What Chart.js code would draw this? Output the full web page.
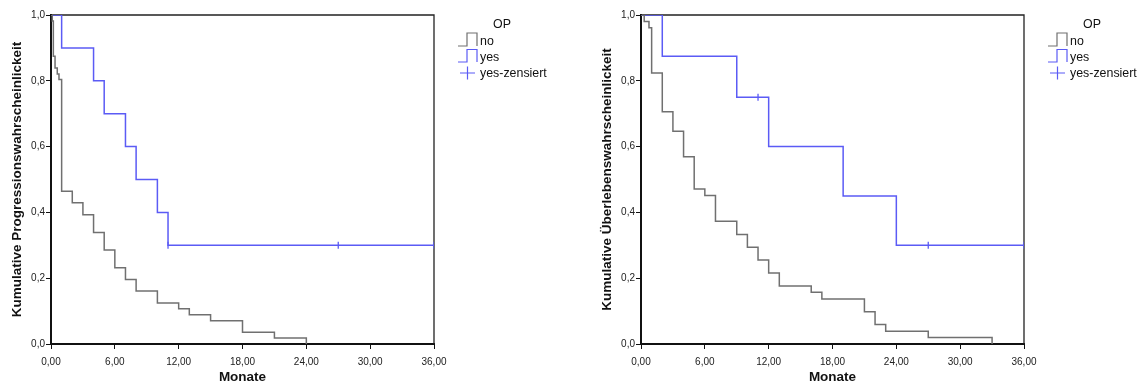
<!DOCTYPE html>
<html>
<head>
<meta charset="utf-8">
<script src="https://cdn.jsdelivr.net/npm/chart.js@4"></script>
<style>
  body { margin: 0; background: #fff; }
  #wrap { position: relative; width: 1140px; height: 385px; }
  canvas { position: absolute; top: 0; }
  #links { left: 0; }
  #rechts { left: 590px; }
</style>
</head>
<body>
<div id="wrap">
  <canvas id="links" width="550" height="385"></canvas>
  <canvas id="rechts" width="550" height="385"></canvas>
</div>
<script>
/* Daten - Kaplan-Meier Kurven (Monate / kumulative Wahrscheinlichkeit) */

// Progression
const progNoZeit = [0, 0.12, 0.22, 0.38, 0.59, 0.75, 1, 2, 3, 4, 5, 6, 7, 8, 10, 12, 13, 15, 18, 21, 24];
const progNoWert = [1, 0.982, 0.875, 0.839, 0.821, 0.804, 0.464, 0.429, 0.393, 0.339, 0.286, 0.232, 0.196, 0.161, 0.125, 0.107, 0.089, 0.071, 0.036, 0.018, 0];
const progYesZeit = [0, 1, 4, 5, 7, 8, 10, 11, 36];
const progYesWert = [1, 0.9, 0.8, 0.7, 0.6, 0.5, 0.4, 0.3, 0.3];
const progZensZeit = [11, 27, 36];
const progZensWert = [0.3, 0.3, 0.3];

// Überleben
const ueberNoZeit = [0, 0.3, 0.75, 1, 2, 3, 4, 5, 6, 7, 9, 10, 11, 12, 13, 16, 17, 21, 22, 23, 27, 33];
const ueberNoWert = [1, 0.980, 0.961, 0.824, 0.706, 0.647, 0.569, 0.471, 0.451, 0.373, 0.333, 0.294, 0.255, 0.216, 0.176, 0.157, 0.137, 0.098, 0.059, 0.039, 0.020, 0];
const ueberYesZeit = [0, 2, 9, 12, 19, 24, 36];
const ueberYesWert = [1, 0.875, 0.75, 0.6, 0.45, 0.3, 0.3];
const ueberZensZeit = [11, 27, 36];
const ueberZensWert = [0.75, 0.3, 0.3];

const xTicks = [0, 6, 12, 18, 24, 30, 36];
const yTicks = [0, 0.2, 0.4, 0.6, 0.8, 1.0];
const legendeTitel = "OP";
const legendeEintraege = ["no", "yes", "yes-zensiert"];

const GRAU = "#707070";
const BLAU = "#5b5bf5";
const SCHRIFT = "'Liberation Sans', Arial, sans-serif";

function punkte(zeit, wert) {
    return zeit.map((t, i) => ({ x: t, y: wert[i] }));
}

/* Rahmen oben + rechts */
const rahmen = {
    id: 'rahmen',
    beforeDatasetsDraw(chart) {
        const { ctx, chartArea: a } = chart;
        ctx.save();
        ctx.strokeStyle = '#222';
        ctx.lineWidth = 1.3;
        ctx.beginPath();
        ctx.moveTo(a.left, a.top);
        ctx.lineTo(a.right, a.top);
        ctx.lineTo(a.right, a.bottom);
        ctx.stroke();
        ctx.restore();
    }
};

/* Legende rechts mit Stufen-Symbol */
const legende = {
    id: 'legende',
    afterDraw(chart) {
        const { ctx, chartArea: a } = chart;
        const x0 = a.right + 24;
        ctx.save();
        ctx.font = "12.4px " + SCHRIFT;
        ctx.fillStyle = '#111';
        ctx.textBaseline = 'middle';
        ctx.textAlign = 'center';
        ctx.fillText(legendeTitel, a.right + 68, 24.5);
        ctx.textAlign = 'left';

        function stufe(farbe, unten, oben) {
            ctx.strokeStyle = farbe;
            ctx.lineWidth = 1.2;
            ctx.beginPath();
            ctx.moveTo(x0, unten);
            ctx.lineTo(x0 + 9, unten);
            ctx.lineTo(x0 + 9, oben);
            ctx.lineTo(x0 + 19, oben);
            ctx.lineTo(x0 + 19, unten);
            ctx.stroke();
        }
        stufe(GRAU, 46, 33);
        ctx.fillText(legendeEintraege[0], x0 + 22, 42);
        stufe(BLAU, 62, 49.5);
        ctx.fillText(legendeEintraege[1], x0 + 22, 58);

        ctx.strokeStyle = BLAU;
        ctx.lineWidth = 1.2;
        ctx.beginPath();
        ctx.moveTo(x0 + 2, 73);
        ctx.lineTo(x0 + 17, 73);
        ctx.moveTo(x0 + 9.5, 66.5);
        ctx.lineTo(x0 + 9.5, 79.5);
        ctx.stroke();
        ctx.fillText(legendeEintraege[2], x0 + 22, 73.5);
        ctx.restore();
    }
};

function kmChart(canvasId, yTitel, noZ, noW, yesZ, yesW, zensZ, zensW) {
    const ctx = document.getElementById(canvasId).getContext("2d");
    return new Chart(ctx, {
        type: "line",
        data: {
            datasets: [
                {
                    label: "no",
                    data: punkte(noZ, noW),
                    borderColor: GRAU,
                    borderWidth: 1.5,
                    stepped: 'before',
                    pointRadius: 0,
                    fill: false
                },
                {
                    label: "yes",
                    data: punkte(yesZ, yesW),
                    borderColor: BLAU,
                    borderWidth: 1.5,
                    stepped: 'before',
                    pointRadius: 0,
                    fill: false
                },
                {
                    label: "yes-zensiert",
                    data: punkte(zensZ, zensW),
                    showLine: false,
                    pointStyle: 'line',
                    rotation: 90,
                    pointRadius: 3.5,
                    borderColor: BLAU,
                    borderWidth: 1.3
                }
            ]
        },
        options: {
            responsive: false,
            animation: false,
            events: [],
            layout: { padding: { top: 15, right: 116, left: 0, bottom: 0 } },
            plugins: {
                legend: { display: false },
                tooltip: { enabled: false }
            },
            scales: {
                x: {
                    type: 'linear',
                    min: 0,
                    max: 36,
                    afterBuildTicks: (s) => { s.ticks = xTicks.map(v => ({ value: v })); },
                    afterFit: (s) => { s.height = 41; },
                    border: { display: true, color: '#111', width: 2 },
                    grid: { drawOnChartArea: false, drawTicks: true, tickLength: 5, color: '#111', lineWidth: 1 },
                    ticks: {
                        padding: 7,
                        maxRotation: 0,
                        color: '#222',
                        font: { family: SCHRIFT, size: 10 },
                        callback: (v) => Number(v).toFixed(2).replace('.', ',')
                    },
                    title: {
                        display: true,
                        text: "Monate",
                        color: '#111',
                        font: { family: SCHRIFT, size: 13.5, weight: 'bold' },
                        padding: { top: 0, bottom: 0 }
                    }
                },
                y: {
                    type: 'linear',
                    min: 0,
                    max: 1,
                    afterBuildTicks: (s) => { s.ticks = yTicks.map(v => ({ value: v })); },
                    afterFit: (s) => { s.width = 51; },
                    border: { display: true, color: '#111', width: 2 },
                    grid: { drawOnChartArea: false, drawTicks: true, tickLength: 5, color: '#111', lineWidth: 1 },
                    ticks: {
                        padding: 1,
                        color: '#222',
                        font: { family: SCHRIFT, size: 10 },
                        callback: (v) => Number(v).toFixed(1).replace('.', ',')
                    },
                    title: {
                        display: true,
                        text: yTitel,
                        color: '#111',
                        font: { family: SCHRIFT, size: 13.5, weight: 'bold' },
                        padding: { top: 9.5, bottom: 0 }
                    }
                }
            }
        },
        plugins: [rahmen, legende]
    });
}

kmChart("links", "Kumulative Progressionswahrscheinlickeit",
    progNoZeit, progNoWert, progYesZeit, progYesWert, progZensZeit, progZensWert);
kmChart("rechts", "Kumulative Überlebenswahrscheinlickeit",
    ueberNoZeit, ueberNoWert, ueberYesZeit, ueberYesWert, ueberZensZeit, ueberZensWert);
</script>
</body>
</html>
